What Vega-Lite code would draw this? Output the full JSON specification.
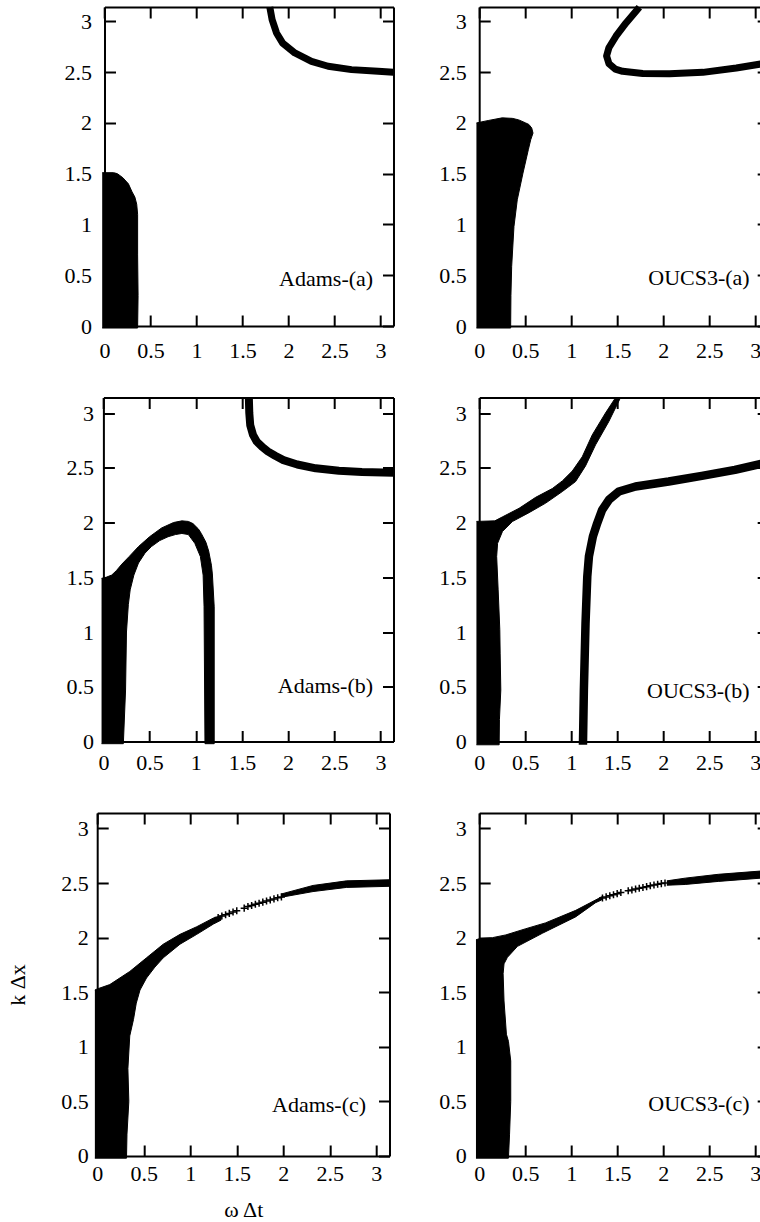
{
  "$schema": "https://vega.github.io/schema/vega-lite/v6.json",
  "padding": {"left": 6.2, "top": 3, "right": 0, "bottom": 0},
  "columns": 2,
  "spacing": {"row": 71.5, "column": 85},
  "bounds": "flush",
  "align": "each",
  "config": {
    "view": {"stroke": null},
    "font": "Liberation Serif",
    "axis": {"domainColor": "#000", "domainWidth": 2, "tickColor": "#000", "tickWidth": 2, "tickSize": -11, "labelFont": "Liberation Serif", "labelFontSize": 22, "labelColor": "#000", "titleFont": "Liberation Serif", "titleFontSize": 22, "titleFontWeight": "normal", "titleColor": "#000", "grid": false, "labelFlush": false, "labelOverlap": false},
    "text": {"font": "Liberation Serif", "fontSize": 22, "color": "#000"},
    "point": {"opacity": 1}
  },
  "datasets": {
    "poly": [
      {"p":"Aa","part":"blob","i":0,"x":-0.025,"y":-0.02},
      {"p":"Aa","part":"blob","i":1,"x":0.36,"y":-0.02},
      {"p":"Aa","part":"blob","i":2,"x":0.365,"y":0.3},
      {"p":"Aa","part":"blob","i":3,"x":0.36,"y":0.7},
      {"p":"Aa","part":"blob","i":4,"x":0.36,"y":1.1},
      {"p":"Aa","part":"blob","i":5,"x":0.35,"y":1.2},
      {"p":"Aa","part":"blob","i":6,"x":0.33,"y":1.27},
      {"p":"Aa","part":"blob","i":7,"x":0.30,"y":1.32},
      {"p":"Aa","part":"blob","i":8,"x":0.26,"y":1.40},
      {"p":"Aa","part":"blob","i":9,"x":0.20,"y":1.46},
      {"p":"Aa","part":"blob","i":10,"x":0.14,"y":1.50},
      {"p":"Aa","part":"blob","i":11,"x":0.10,"y":1.51},
      {"p":"Aa","part":"blob","i":12,"x":-0.025,"y":1.51},

      {"p":"Oa","part":"blob","i":0,"x":-0.03,"y":-0.02},
      {"p":"Oa","part":"blob","i":1,"x":0.342,"y":-0.02},
      {"p":"Oa","part":"blob","i":2,"x":0.345,"y":0.3},
      {"p":"Oa","part":"blob","i":3,"x":0.353,"y":0.585},
      {"p":"Oa","part":"blob","i":4,"x":0.378,"y":0.98},
      {"p":"Oa","part":"blob","i":5,"x":0.414,"y":1.243},
      {"p":"Oa","part":"blob","i":6,"x":0.476,"y":1.506},
      {"p":"Oa","part":"blob","i":7,"x":0.534,"y":1.736},
      {"p":"Oa","part":"blob","i":8,"x":0.56,"y":1.834},
      {"p":"Oa","part":"blob","i":9,"x":0.585,"y":1.90},
      {"p":"Oa","part":"blob","i":10,"x":0.571,"y":1.95},
      {"p":"Oa","part":"blob","i":11,"x":0.54,"y":1.985},
      {"p":"Oa","part":"blob","i":12,"x":0.505,"y":2.0},
      {"p":"Oa","part":"blob","i":13,"x":0.43,"y":2.03},
      {"p":"Oa","part":"blob","i":14,"x":0.36,"y":2.045},
      {"p":"Oa","part":"blob","i":15,"x":0.25,"y":2.05},
      {"p":"Oa","part":"blob","i":16,"x":0.105,"y":2.025},
      {"p":"Oa","part":"blob","i":17,"x":-0.03,"y":2.0},

      {"p":"Ab","part":"arch","i":0,"x":-0.02,"y":-0.02},
      {"p":"Ab","part":"arch","i":1,"x":0.216,"y":-0.02},
      {"p":"Ab","part":"arch","i":2,"x":0.24,"y":0.47},
      {"p":"Ab","part":"arch","i":3,"x":0.25,"y":1.0},
      {"p":"Ab","part":"arch","i":4,"x":0.27,"y":1.25},
      {"p":"Ab","part":"arch","i":5,"x":0.29,"y":1.385},
      {"p":"Ab","part":"arch","i":6,"x":0.33,"y":1.52},
      {"p":"Ab","part":"arch","i":7,"x":0.38,"y":1.63},
      {"p":"Ab","part":"arch","i":8,"x":0.45,"y":1.72},
      {"p":"Ab","part":"arch","i":9,"x":0.52,"y":1.78},
      {"p":"Ab","part":"arch","i":10,"x":0.61,"y":1.835},
      {"p":"Ab","part":"arch","i":11,"x":0.70,"y":1.87},
      {"p":"Ab","part":"arch","i":12,"x":0.78,"y":1.89},
      {"p":"Ab","part":"arch","i":13,"x":0.85,"y":1.90},
      {"p":"Ab","part":"arch","i":14,"x":0.92,"y":1.89},
      {"p":"Ab","part":"arch","i":15,"x":0.99,"y":1.81},
      {"p":"Ab","part":"arch","i":16,"x":1.05,"y":1.69},
      {"p":"Ab","part":"arch","i":17,"x":1.08,"y":1.52},
      {"p":"Ab","part":"arch","i":18,"x":1.09,"y":1.23},
      {"p":"Ab","part":"arch","i":19,"x":1.10,"y":-0.02},
      {"p":"Ab","part":"arch","i":20,"x":1.20,"y":-0.02},
      {"p":"Ab","part":"arch","i":21,"x":1.20,"y":1.23},
      {"p":"Ab","part":"arch","i":22,"x":1.18,"y":1.53},
      {"p":"Ab","part":"arch","i":23,"x":1.17,"y":1.61},
      {"p":"Ab","part":"arch","i":24,"x":1.14,"y":1.74},
      {"p":"Ab","part":"arch","i":25,"x":1.11,"y":1.82},
      {"p":"Ab","part":"arch","i":26,"x":1.06,"y":1.90},
      {"p":"Ab","part":"arch","i":27,"x":1.03,"y":1.94},
      {"p":"Ab","part":"arch","i":28,"x":0.97,"y":1.99},
      {"p":"Ab","part":"arch","i":29,"x":0.92,"y":2.01},
      {"p":"Ab","part":"arch","i":30,"x":0.85,"y":2.015},
      {"p":"Ab","part":"arch","i":31,"x":0.76,"y":2.0},
      {"p":"Ab","part":"arch","i":32,"x":0.63,"y":1.95},
      {"p":"Ab","part":"arch","i":33,"x":0.50,"y":1.87},
      {"p":"Ab","part":"arch","i":34,"x":0.38,"y":1.78},
      {"p":"Ab","part":"arch","i":35,"x":0.28,"y":1.69},
      {"p":"Ab","part":"arch","i":36,"x":0.20,"y":1.62},
      {"p":"Ab","part":"arch","i":37,"x":0.14,"y":1.56},
      {"p":"Ab","part":"arch","i":38,"x":0.09,"y":1.52},
      {"p":"Ab","part":"arch","i":39,"x":0.03,"y":1.50},
      {"p":"Ab","part":"arch","i":40,"x":-0.02,"y":1.49},

      {"p":"Ob","part":"left","i":0,"x":-0.03,"y":-0.03},
      {"p":"Ob","part":"left","i":1,"x":0.217,"y":-0.03},
      {"p":"Ob","part":"left","i":2,"x":0.22,"y":0.2},
      {"p":"Ob","part":"left","i":3,"x":0.235,"y":0.47},
      {"p":"Ob","part":"left","i":4,"x":0.228,"y":0.8},
      {"p":"Ob","part":"left","i":5,"x":0.224,"y":1.02},
      {"p":"Ob","part":"left","i":6,"x":0.206,"y":1.385},
      {"p":"Ob","part":"left","i":7,"x":0.19,"y":1.69},
      {"p":"Ob","part":"left","i":8,"x":0.2,"y":1.81},
      {"p":"Ob","part":"left","i":9,"x":0.253,"y":1.918},
      {"p":"Ob","part":"left","i":10,"x":0.361,"y":2.009},
      {"p":"Ob","part":"left","i":11,"x":0.542,"y":2.09},
      {"p":"Ob","part":"left","i":12,"x":0.723,"y":2.177},
      {"p":"Ob","part":"left","i":13,"x":0.904,"y":2.283},
      {"p":"Ob","part":"left","i":14,"x":1.048,"y":2.374},
      {"p":"Ob","part":"left","i":15,"x":1.156,"y":2.517},
      {"p":"Ob","part":"left","i":16,"x":1.265,"y":2.709},
      {"p":"Ob","part":"left","i":17,"x":1.409,"y":2.922},
      {"p":"Ob","part":"left","i":18,"x":1.536,"y":3.14},
      {"p":"Ob","part":"left","i":19,"x":1.482,"y":3.14},
      {"p":"Ob","part":"left","i":20,"x":1.373,"y":3.0},
      {"p":"Ob","part":"left","i":21,"x":1.229,"y":2.80},
      {"p":"Ob","part":"left","i":22,"x":1.12,"y":2.60},
      {"p":"Ob","part":"left","i":23,"x":1.012,"y":2.47},
      {"p":"Ob","part":"left","i":24,"x":0.904,"y":2.38},
      {"p":"Ob","part":"left","i":25,"x":0.795,"y":2.31},
      {"p":"Ob","part":"left","i":26,"x":0.614,"y":2.23},
      {"p":"Ob","part":"left","i":27,"x":0.434,"y":2.13},
      {"p":"Ob","part":"left","i":28,"x":0.25,"y":2.05},
      {"p":"Ob","part":"left","i":29,"x":0.17,"y":2.015},
      {"p":"Ob","part":"left","i":30,"x":-0.03,"y":2.01},

      {"p":"Ac","part":"blob","i":0,"x":-0.025,"y":-0.02},
      {"p":"Ac","part":"blob","i":1,"x":0.315,"y":-0.02},
      {"p":"Ac","part":"blob","i":2,"x":0.32,"y":0.2},
      {"p":"Ac","part":"blob","i":3,"x":0.34,"y":0.5},
      {"p":"Ac","part":"blob","i":4,"x":0.33,"y":0.8},
      {"p":"Ac","part":"blob","i":5,"x":0.35,"y":1.1},
      {"p":"Ac","part":"blob","i":6,"x":0.39,"y":1.25},
      {"p":"Ac","part":"blob","i":7,"x":0.42,"y":1.4},
      {"p":"Ac","part":"blob","i":8,"x":0.46,"y":1.52},
      {"p":"Ac","part":"blob","i":9,"x":0.53,"y":1.63},
      {"p":"Ac","part":"blob","i":10,"x":0.62,"y":1.73},
      {"p":"Ac","part":"blob","i":11,"x":0.71,"y":1.815},
      {"p":"Ac","part":"blob","i":12,"x":0.89,"y":1.94},
      {"p":"Ac","part":"blob","i":13,"x":1.07,"y":2.03},
      {"p":"Ac","part":"blob","i":14,"x":1.25,"y":2.125},
      {"p":"Ac","part":"blob","i":15,"x":1.33,"y":2.16},
      {"p":"Ac","part":"blob","i":16,"x":1.33,"y":2.20},
      {"p":"Ac","part":"blob","i":17,"x":1.25,"y":2.18},
      {"p":"Ac","part":"blob","i":18,"x":1.07,"y":2.10},
      {"p":"Ac","part":"blob","i":19,"x":0.89,"y":2.03},
      {"p":"Ac","part":"blob","i":20,"x":0.71,"y":1.94},
      {"p":"Ac","part":"blob","i":21,"x":0.53,"y":1.815},
      {"p":"Ac","part":"blob","i":22,"x":0.35,"y":1.69},
      {"p":"Ac","part":"blob","i":23,"x":0.135,"y":1.57},
      {"p":"Ac","part":"blob","i":24,"x":0.0,"y":1.53},
      {"p":"Ac","part":"blob","i":25,"x":-0.025,"y":1.52},
      {"p":"Ac","part":"right","i":0,"x":1.98,"y":2.37},
      {"p":"Ac","part":"right","i":1,"x":2.32,"y":2.422},
      {"p":"Ac","part":"right","i":2,"x":2.68,"y":2.46},
      {"p":"Ac","part":"right","i":3,"x":3.14,"y":2.47},
      {"p":"Ac","part":"right","i":4,"x":3.14,"y":2.53},
      {"p":"Ac","part":"right","i":5,"x":2.68,"y":2.52},
      {"p":"Ac","part":"right","i":6,"x":2.32,"y":2.478},
      {"p":"Ac","part":"right","i":7,"x":1.98,"y":2.40},

      {"p":"Oc","part":"blob","i":0,"x":-0.035,"y":-0.02},
      {"p":"Oc","part":"blob","i":1,"x":0.318,"y":-0.02},
      {"p":"Oc","part":"blob","i":2,"x":0.33,"y":0.2},
      {"p":"Oc","part":"blob","i":3,"x":0.343,"y":0.5},
      {"p":"Oc","part":"blob","i":4,"x":0.343,"y":0.87},
      {"p":"Oc","part":"blob","i":5,"x":0.318,"y":1.05},
      {"p":"Oc","part":"blob","i":6,"x":0.296,"y":1.115},
      {"p":"Oc","part":"blob","i":7,"x":0.27,"y":1.42},
      {"p":"Oc","part":"blob","i":8,"x":0.26,"y":1.67},
      {"p":"Oc","part":"blob","i":9,"x":0.27,"y":1.76},
      {"p":"Oc","part":"blob","i":10,"x":0.307,"y":1.82},
      {"p":"Oc","part":"blob","i":11,"x":0.416,"y":1.92},
      {"p":"Oc","part":"blob","i":12,"x":0.687,"y":2.04},
      {"p":"Oc","part":"blob","i":13,"x":1.048,"y":2.19},
      {"p":"Oc","part":"blob","i":14,"x":1.265,"y":2.32},
      {"p":"Oc","part":"blob","i":15,"x":1.33,"y":2.345},
      {"p":"Oc","part":"blob","i":16,"x":1.33,"y":2.375},
      {"p":"Oc","part":"blob","i":17,"x":1.30,"y":2.36},
      {"p":"Oc","part":"blob","i":18,"x":1.05,"y":2.25},
      {"p":"Oc","part":"blob","i":19,"x":0.72,"y":2.135},
      {"p":"Oc","part":"blob","i":20,"x":0.50,"y":2.08},
      {"p":"Oc","part":"blob","i":21,"x":0.29,"y":2.025},
      {"p":"Oc","part":"blob","i":22,"x":0.145,"y":2.0},
      {"p":"Oc","part":"blob","i":23,"x":0.0,"y":1.99},
      {"p":"Oc","part":"blob","i":24,"x":-0.035,"y":1.98},
      {"p":"Oc","part":"right","i":0,"x":2.04,"y":2.48},
      {"p":"Oc","part":"right","i":1,"x":2.24,"y":2.487},
      {"p":"Oc","part":"right","i":2,"x":2.60,"y":2.515},
      {"p":"Oc","part":"right","i":3,"x":3.14,"y":2.55},
      {"p":"Oc","part":"right","i":4,"x":3.14,"y":2.615},
      {"p":"Oc","part":"right","i":5,"x":2.60,"y":2.58},
      {"p":"Oc","part":"right","i":6,"x":2.24,"y":2.545},
      {"p":"Oc","part":"right","i":7,"x":2.04,"y":2.52}
    ],
    "band": [
      {"p":"Aa","part":"c","i":0,"x":1.797,"y":3.14},
      {"p":"Aa","part":"c","i":1,"x":1.822,"y":3.018},
      {"p":"Aa","part":"c","i":2,"x":1.87,"y":2.886},
      {"p":"Aa","part":"c","i":3,"x":1.935,"y":2.788},
      {"p":"Aa","part":"c","i":4,"x":2.069,"y":2.689},
      {"p":"Aa","part":"c","i":5,"x":2.25,"y":2.607},
      {"p":"Aa","part":"c","i":6,"x":2.431,"y":2.558},
      {"p":"Aa","part":"c","i":7,"x":2.685,"y":2.525},
      {"p":"Aa","part":"c","i":8,"x":2.975,"y":2.508},
      {"p":"Aa","part":"c","i":9,"x":3.14,"y":2.498},

      {"p":"Oa","part":"c","i":0,"x":1.741,"y":3.14},
      {"p":"Oa","part":"c","i":1,"x":1.596,"y":2.985},
      {"p":"Oa","part":"c","i":2,"x":1.487,"y":2.854},
      {"p":"Oa","part":"c","i":3,"x":1.41,"y":2.74},
      {"p":"Oa","part":"c","i":4,"x":1.385,"y":2.66},
      {"p":"Oa","part":"c","i":5,"x":1.41,"y":2.585},
      {"p":"Oa","part":"c","i":6,"x":1.48,"y":2.53},
      {"p":"Oa","part":"c","i":7,"x":1.559,"y":2.508},
      {"p":"Oa","part":"c","i":8,"x":1.778,"y":2.487},
      {"p":"Oa","part":"c","i":9,"x":2.068,"y":2.485},
      {"p":"Oa","part":"c","i":10,"x":2.432,"y":2.498},
      {"p":"Oa","part":"c","i":11,"x":2.795,"y":2.541},
      {"p":"Oa","part":"c","i":12,"x":3.086,"y":2.584},
      {"p":"Oa","part":"c","i":13,"x":3.14,"y":2.592},

      {"p":"Ab","part":"c","i":0,"x":1.575,"y":3.14},
      {"p":"Ab","part":"c","i":1,"x":1.58,"y":3.0},
      {"p":"Ab","part":"c","i":2,"x":1.59,"y":2.89},
      {"p":"Ab","part":"c","i":3,"x":1.62,"y":2.80},
      {"p":"Ab","part":"c","i":4,"x":1.66,"y":2.74},
      {"p":"Ab","part":"c","i":5,"x":1.72,"y":2.69},
      {"p":"Ab","part":"c","i":6,"x":1.78,"y":2.65},
      {"p":"Ab","part":"c","i":7,"x":1.86,"y":2.61},
      {"p":"Ab","part":"c","i":8,"x":1.95,"y":2.57},
      {"p":"Ab","part":"c","i":9,"x":2.1,"y":2.53},
      {"p":"Ab","part":"c","i":10,"x":2.3,"y":2.495},
      {"p":"Ab","part":"c","i":11,"x":2.55,"y":2.472},
      {"p":"Ab","part":"c","i":12,"x":2.8,"y":2.462},
      {"p":"Ab","part":"c","i":13,"x":3.14,"y":2.455},

      {"p":"Ob","part":"c","i":0,"x":1.128,"y":-0.03},
      {"p":"Ob","part":"c","i":1,"x":1.138,"y":0.472},
      {"p":"Ob","part":"c","i":2,"x":1.156,"y":1.081},
      {"p":"Ob","part":"c","i":3,"x":1.175,"y":1.507},
      {"p":"Ob","part":"c","i":4,"x":1.193,"y":1.69},
      {"p":"Ob","part":"c","i":5,"x":1.236,"y":1.872},
      {"p":"Ob","part":"c","i":6,"x":1.283,"y":1.994},
      {"p":"Ob","part":"c","i":7,"x":1.337,"y":2.116},
      {"p":"Ob","part":"c","i":8,"x":1.41,"y":2.207},
      {"p":"Ob","part":"c","i":9,"x":1.518,"y":2.283},
      {"p":"Ob","part":"c","i":10,"x":1.70,"y":2.329},
      {"p":"Ob","part":"c","i":11,"x":2.06,"y":2.374},
      {"p":"Ob","part":"c","i":12,"x":2.42,"y":2.426},
      {"p":"Ob","part":"c","i":13,"x":2.78,"y":2.481},
      {"p":"Ob","part":"c","i":14,"x":3.07,"y":2.536},
      {"p":"Ob","part":"c","i":15,"x":3.14,"y":2.548}
    ],
    "cross": [
      {"p":"Ac","x":1.30,"y":2.185},{"p":"Ac","x":1.34,"y":2.198},{"p":"Ac","x":1.38,"y":2.21},
      {"p":"Ac","x":1.42,"y":2.222},{"p":"Ac","x":1.46,"y":2.235},{"p":"Ac","x":1.50,"y":2.246},
      {"p":"Ac","x":1.58,"y":2.27},{"p":"Ac","x":1.62,"y":2.285},{"p":"Ac","x":1.66,"y":2.295},
      {"p":"Ac","x":1.70,"y":2.305},{"p":"Ac","x":1.74,"y":2.315},{"p":"Ac","x":1.78,"y":2.325},
      {"p":"Ac","x":1.82,"y":2.335},{"p":"Ac","x":1.86,"y":2.345},{"p":"Ac","x":1.90,"y":2.355},
      {"p":"Ac","x":1.94,"y":2.365},{"p":"Ac","x":1.98,"y":2.373},
      {"p":"Oc","x":1.34,"y":2.363},{"p":"Oc","x":1.38,"y":2.373},{"p":"Oc","x":1.42,"y":2.383},
      {"p":"Oc","x":1.46,"y":2.393},{"p":"Oc","x":1.50,"y":2.403},{"p":"Oc","x":1.54,"y":2.413},
      {"p":"Oc","x":1.62,"y":2.429},{"p":"Oc","x":1.66,"y":2.437},{"p":"Oc","x":1.70,"y":2.445},
      {"p":"Oc","x":1.74,"y":2.452},{"p":"Oc","x":1.78,"y":2.46},{"p":"Oc","x":1.82,"y":2.467},
      {"p":"Oc","x":1.86,"y":2.475},{"p":"Oc","x":1.90,"y":2.482},{"p":"Oc","x":1.94,"y":2.489},
      {"p":"Oc","x":1.98,"y":2.495},{"p":"Oc","x":2.02,"y":2.501}
    ]
  },
  "concat": [
    {
      "width": 296.3, "height": 319,
      "layer": [
        {"data": {"name": "poly"}, "transform": [{"filter": "datum.p == 'Aa'"}],
         "mark": {"type": "line", "fill": "#000", "stroke": "#000", "strokeWidth": 1, "strokeJoin": "round"},
         "encoding": {
           "x": {"field": "x", "type": "quantitative", "scale": {"domain": [0, 3.14159], "range": [7.3, 296.3], "nice": false, "zero": false}, "axis": {"orient": "bottom", "values": [0,0.5,1,1.5,2,2.5,3], "format": "~g", "title": null, "labelPadding": 25.6}},
           "y": {"field": "y", "type": "quantitative", "scale": {"domain": [0, 3.14159], "nice": false, "zero": false}, "axis": {"orient": "left", "offset": -7.3, "values": [0,0.5,1,1.5,2,2.5,3], "format": "~g", "title": null, "labelPadding": 24}},
           "detail": {"field": "part"}, "order": {"field": "i"}}},
        {"data": {"name": "band"}, "transform": [{"filter": "datum.p == 'Aa'"}],
         "mark": {"type": "line", "stroke": "#000", "strokeWidth": 7, "strokeCap": "butt", "strokeJoin": "round"},
         "encoding": {
           "x": {"field": "x", "type": "quantitative", "axis": {"orient": "top", "values": [0,0.5,1,1.5,2,2.5,3], "labels": false, "title": null}},
           "y": {"field": "y", "type": "quantitative", "axis": {"orient": "right", "values": [0,0.5,1,1.5,2,2.5,3], "labels": false, "title": null}},
           "detail": {"field": "part"}, "order": {"field": "i"}}},
        {"data": {"values": [{}]},
         "mark": {"type": "text", "text": "Adams-(a)", "align": "right", "baseline": "alphabetic"},
         "encoding": {"x": {"datum": 2.92, "type": "quantitative", "axis": null}, "y": {"datum": 0.39, "type": "quantitative", "axis": null}}}
      ],
      "resolve": {"axis": {"x": "independent", "y": "independent"}}
    },
    {
      "width": 289, "height": 319,
      "layer": [
        {"data": {"name": "poly"}, "transform": [{"filter": "datum.p == 'Oa'"}],
         "mark": {"type": "line", "fill": "#000", "stroke": "#000", "strokeWidth": 1, "strokeJoin": "round"},
         "encoding": {
           "x": {"field": "x", "type": "quantitative", "scale": {"domain": [0, 3.14159], "nice": false, "zero": false}, "axis": {"orient": "bottom", "values": [0,0.5,1,1.5,2,2.5,3], "format": "~g", "title": null, "labelPadding": 25.6}},
           "y": {"field": "y", "type": "quantitative", "scale": {"domain": [0, 3.14159], "nice": false, "zero": false}, "axis": {"orient": "left", "values": [0,0.5,1,1.5,2,2.5,3], "format": "~g", "title": null, "labelPadding": 24}},
           "detail": {"field": "part"}, "order": {"field": "i"}}},
        {"data": {"name": "band"}, "transform": [{"filter": "datum.p == 'Oa'"}],
         "mark": {"type": "line", "stroke": "#000", "strokeWidth": 7, "strokeCap": "butt", "strokeJoin": "round"},
         "encoding": {
           "x": {"field": "x", "type": "quantitative", "axis": {"orient": "top", "values": [0,0.5,1,1.5,2,2.5,3], "labels": false, "title": null}},
           "y": {"field": "y", "type": "quantitative", "axis": {"orient": "right", "values": [0,0.5,1,1.5,2,2.5,3], "labels": false, "title": null}},
           "detail": {"field": "part"}, "order": {"field": "i"}}},
        {"data": {"values": [{}]},
         "mark": {"type": "text", "text": "OUCS3-(a)", "align": "right", "baseline": "alphabetic"},
         "encoding": {"x": {"datum": 2.94, "type": "quantitative", "axis": null}, "y": {"datum": 0.40, "type": "quantitative", "axis": null}}}
      ],
      "resolve": {"axis": {"x": "independent", "y": "independent"}}
    },
    {
      "width": 296.3, "height": 344,
      "layer": [
        {"data": {"name": "poly"}, "transform": [{"filter": "datum.p == 'Ab'"}],
         "mark": {"type": "line", "fill": "#000", "stroke": "#000", "strokeWidth": 1, "strokeJoin": "round"},
         "encoding": {
           "x": {"field": "x", "type": "quantitative", "scale": {"domain": [0, 3.14159], "range": [6.2, 296.3], "nice": false, "zero": false}, "axis": {"orient": "bottom", "values": [0,0.5,1,1.5,2,2.5,3], "format": "~g", "title": null, "labelPadding": 21.6}},
           "y": {"field": "y", "type": "quantitative", "scale": {"domain": [0, 3.14159], "nice": false, "zero": false}, "axis": {"orient": "left", "offset": -6.2, "values": [0,0.5,1,1.5,2,2.5,3], "format": "~g", "title": null, "labelPadding": 21}},
           "detail": {"field": "part"}, "order": {"field": "i"}}},
        {"data": {"name": "band"}, "transform": [{"filter": "datum.p == 'Ab'"}],
         "mark": {"type": "line", "stroke": "#000", "strokeWidth": 8, "strokeCap": "butt", "strokeJoin": "round"},
         "encoding": {
           "x": {"field": "x", "type": "quantitative", "axis": {"orient": "top", "values": [0,0.5,1,1.5,2,2.5,3], "labels": false, "title": null}},
           "y": {"field": "y", "type": "quantitative", "axis": {"orient": "right", "values": [0,0.5,1,1.5,2,2.5,3], "labels": false, "title": null}},
           "detail": {"field": "part"}, "order": {"field": "i"}}},
        {"data": {"values": [{}]},
         "mark": {"type": "text", "text": "Adams-(b)", "align": "right", "baseline": "alphabetic"},
         "encoding": {"x": {"datum": 2.92, "type": "quantitative", "axis": null}, "y": {"datum": 0.44, "type": "quantitative", "axis": null}}}
      ],
      "resolve": {"axis": {"x": "independent", "y": "independent"}}
    },
    {
      "width": 289, "height": 344,
      "layer": [
        {"data": {"name": "poly"}, "transform": [{"filter": "datum.p == 'Ob'"}],
         "mark": {"type": "line", "fill": "#000", "stroke": "#000", "strokeWidth": 1, "strokeJoin": "round"},
         "encoding": {
           "x": {"field": "x", "type": "quantitative", "scale": {"domain": [0, 3.14159], "nice": false, "zero": false}, "axis": {"orient": "bottom", "values": [0,0.5,1,1.5,2,2.5,3], "format": "~g", "title": null, "labelPadding": 21.6}},
           "y": {"field": "y", "type": "quantitative", "scale": {"domain": [0, 3.14159], "nice": false, "zero": false}, "axis": {"orient": "left", "values": [0,0.5,1,1.5,2,2.5,3], "format": "~g", "title": null, "labelPadding": 24}},
           "detail": {"field": "part"}, "order": {"field": "i"}}},
        {"data": {"name": "band"}, "transform": [{"filter": "datum.p == 'Ob'"}],
         "mark": {"type": "line", "stroke": "#000", "strokeWidth": 8.5, "strokeCap": "butt", "strokeJoin": "round"},
         "encoding": {
           "x": {"field": "x", "type": "quantitative", "axis": {"orient": "top", "values": [0,0.5,1,1.5,2,2.5,3], "labels": false, "title": null}},
           "y": {"field": "y", "type": "quantitative", "axis": {"orient": "right", "values": [0,0.5,1,1.5,2,2.5,3], "labels": false, "title": null}},
           "detail": {"field": "part"}, "order": {"field": "i"}}},
        {"data": {"values": [{}]},
         "mark": {"type": "text", "text": "OUCS3-(b)", "align": "right", "baseline": "alphabetic"},
         "encoding": {"x": {"datum": 2.94, "type": "quantitative", "axis": null}, "y": {"datum": 0.40, "type": "quantitative", "axis": null}}}
      ],
      "resolve": {"axis": {"x": "independent", "y": "independent"}}
    },
    {
      "width": 292.3, "height": 343,
      "layer": [
        {"data": {"name": "poly"}, "transform": [{"filter": "datum.p == 'Ac'"}],
         "mark": {"type": "line", "fill": "#000", "stroke": "#000", "strokeWidth": 1, "strokeJoin": "round"},
         "encoding": {
           "x": {"field": "x", "type": "quantitative", "scale": {"domain": [0, 3.14159], "nice": false, "zero": false}, "axis": {"orient": "bottom", "values": [0,0.5,1,1.5,2,2.5,3], "format": "~g", "title": "ω Δt", "titlePadding": 15, "labelPadding": 18.6}},
           "y": {"field": "y", "type": "quantitative", "scale": {"domain": [0, 3.14159], "nice": false, "zero": false}, "axis": {"orient": "left", "values": [0,0.5,1,1.5,2,2.5,3], "format": "~g", "title": "k Δx", "titlePadding": 31, "labelPadding": 20}},
           "detail": {"field": "part"}, "order": {"field": "i"}}},
        {"data": {"name": "cross"}, "transform": [{"filter": "datum.p == 'Ac'"}],
         "mark": {"type": "point", "shape": "M-1,0L1,0M0,-1L0,1", "filled": false, "stroke": "#000", "strokeWidth": 1.5, "size": 50, "opacity": 1},
         "encoding": {
           "x": {"field": "x", "type": "quantitative", "axis": {"orient": "top", "values": [0,0.5,1,1.5,2,2.5,3], "labels": false, "title": null}},
           "y": {"field": "y", "type": "quantitative", "axis": {"orient": "right", "values": [0,0.5,1,1.5,2,2.5,3], "labels": false, "title": null}}}},
        {"data": {"values": [{}]},
         "mark": {"type": "text", "text": "Adams-(c)", "align": "right", "baseline": "alphabetic"},
         "encoding": {"x": {"datum": 2.89, "type": "quantitative", "axis": null}, "y": {"datum": 0.40, "type": "quantitative", "axis": null}}}
      ],
      "resolve": {"axis": {"x": "independent", "y": "independent"}}
    },
    {
      "width": 289, "height": 343,
      "layer": [
        {"data": {"name": "poly"}, "transform": [{"filter": "datum.p == 'Oc'"}],
         "mark": {"type": "line", "fill": "#000", "stroke": "#000", "strokeWidth": 1, "strokeJoin": "round"},
         "encoding": {
           "x": {"field": "x", "type": "quantitative", "scale": {"domain": [0, 3.14159], "nice": false, "zero": false}, "axis": {"orient": "bottom", "values": [0,0.5,1,1.5,2,2.5,3], "format": "~g", "title": null, "labelPadding": 18.6}},
           "y": {"field": "y", "type": "quantitative", "scale": {"domain": [0, 3.14159], "nice": false, "zero": false}, "axis": {"orient": "left", "values": [0,0.5,1,1.5,2,2.5,3], "format": "~g", "title": null, "labelPadding": 24}},
           "detail": {"field": "part"}, "order": {"field": "i"}}},
        {"data": {"name": "cross"}, "transform": [{"filter": "datum.p == 'Oc'"}],
         "mark": {"type": "point", "shape": "M-1,0L1,0M0,-1L0,1", "filled": false, "stroke": "#000", "strokeWidth": 1.5, "size": 50, "opacity": 1},
         "encoding": {
           "x": {"field": "x", "type": "quantitative", "axis": {"orient": "top", "values": [0,0.5,1,1.5,2,2.5,3], "labels": false, "title": null}},
           "y": {"field": "y", "type": "quantitative", "axis": {"orient": "right", "values": [0,0.5,1,1.5,2,2.5,3], "labels": false, "title": null}}}},
        {"data": {"values": [{}]},
         "mark": {"type": "text", "text": "OUCS3-(c)", "align": "right", "baseline": "alphabetic"},
         "encoding": {"x": {"datum": 2.94, "type": "quantitative", "axis": null}, "y": {"datum": 0.41, "type": "quantitative", "axis": null}}}
      ],
      "resolve": {"axis": {"x": "independent", "y": "independent"}}
    }
  ]
}
